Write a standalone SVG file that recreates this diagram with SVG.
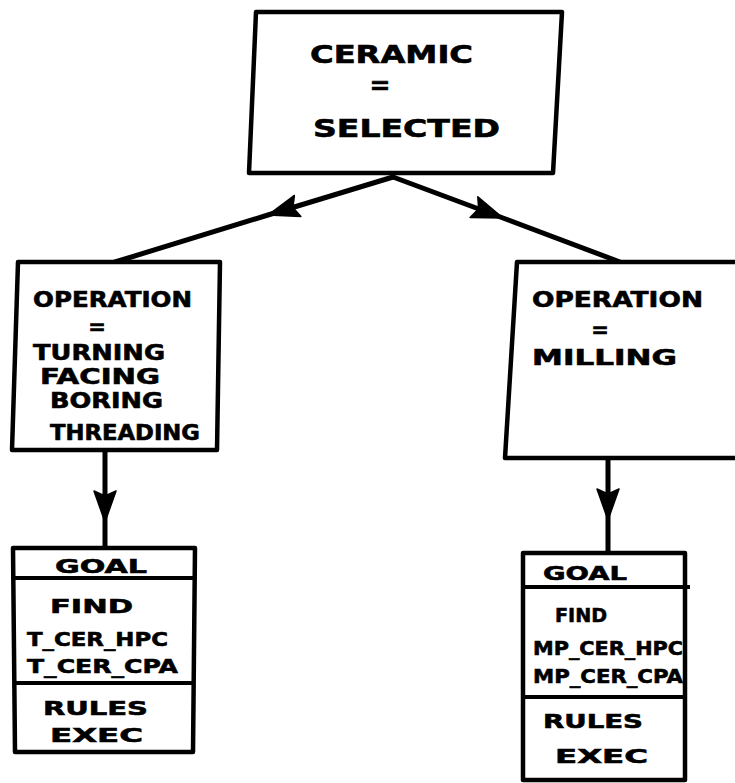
<svg xmlns="http://www.w3.org/2000/svg" width="735" height="783" viewBox="0 0 735 783">
  <style>
    .box { fill: #fff; stroke: #000; stroke-width: 4.5; stroke-linejoin: round; }
    .rule { stroke: #000; stroke-width: 4; fill: none; }
    .edge { stroke: #000; stroke-width: 5; fill: none; stroke-linecap: round; }
    .t { font-family: "DejaVu Sans", "Liberation Sans", sans-serif; font-weight: bold; fill: #000; stroke: #000; stroke-width: 0.6; }
    .big { font-size: 25px; }
    .mid { font-size: 21px; }
    .sm { font-size: 20px; }
  </style>
  <defs>
    <marker id="head" viewBox="-32 -12 33 24" refX="0" refY="0" markerWidth="33" markerHeight="24" markerUnits="userSpaceOnUse" orient="auto">
      <path d="M0,0 L-31,-11 L-26,0 L-31,11 Z" fill="#000" stroke="#000" stroke-width="1.5" stroke-linejoin="round"/>
    </marker>
  </defs>

  <rect width="735" height="783" fill="#fff"/>

  <!-- connectors -->
  <g id="connectors">
    <path class="edge" d="M393,177 L268,215 L115,262" marker-mid="url(#head)"/>
    <path class="edge" d="M393,177 L503,218 L620,262" marker-mid="url(#head)"/>
    <path class="edge" d="M105,449 L105,522 L105,548" marker-mid="url(#head)"/>
    <path class="edge" d="M608,458 L608,520 L608,553" marker-mid="url(#head)"/>
  </g>

  <!-- root condition -->
  <g id="ceramic">
    <polygon class="box" points="256,12 562,12 553,173 249,173"/>
    <text class="t big" x="310" y="63" textLength="163" lengthAdjust="spacingAndGlyphs">CERAMIC</text>
    <text class="t big" x="380" y="94" text-anchor="middle">=</text>
    <text class="t big" x="313" y="137" textLength="187" lengthAdjust="spacingAndGlyphs">SELECTED</text>
  </g>

  <!-- turning branch -->
  <g id="op-turning">
    <polygon class="box" points="18,262 220,262 217,450 12,450"/>
    <text class="t mid" x="33" y="307" textLength="159" lengthAdjust="spacingAndGlyphs">OPERATION</text>
    <text class="t mid" x="97" y="334" text-anchor="middle">=</text>
    <text class="t mid" x="33" y="360" textLength="132" lengthAdjust="spacingAndGlyphs">TURNING</text>
    <text class="t mid" x="40" y="384" textLength="120" lengthAdjust="spacingAndGlyphs">FACING</text>
    <text class="t mid" x="50" y="408" textLength="113" lengthAdjust="spacingAndGlyphs">BORING</text>
    <text class="t mid" x="50" y="440" textLength="150" lengthAdjust="spacingAndGlyphs">THREADING</text>
  </g>

  <!-- milling branch -->
  <g id="op-milling">
    <polygon class="box" points="517,262 745,262 745,458 505,458"/>
    <text class="t mid" x="532" y="307" textLength="171" lengthAdjust="spacingAndGlyphs">OPERATION</text>
    <text class="t mid" x="600" y="337" text-anchor="middle">=</text>
    <text class="t mid" x="532" y="365" textLength="145" lengthAdjust="spacingAndGlyphs">MILLING</text>
  </g>

  <!-- turning goal frame -->
  <g id="goal-turning">
    <polygon class="box" points="13,548 195,548 193,752 15,752"/>
    <line class="rule" x1="13" y1="578" x2="195" y2="578"/>
    <line class="rule" x1="14" y1="683" x2="194" y2="683"/>
    <text class="t sm" x="55" y="573" textLength="92" lengthAdjust="spacingAndGlyphs">GOAL</text>
    <text class="t sm" x="50" y="613" textLength="83" lengthAdjust="spacingAndGlyphs">FIND</text>
    <text class="t sm" x="27" y="646" textLength="141" lengthAdjust="spacingAndGlyphs">T_CER_HPC</text>
    <text class="t sm" x="27" y="673" textLength="151" lengthAdjust="spacingAndGlyphs">T_CER_CPA</text>
    <text class="t sm" x="43" y="715" textLength="105" lengthAdjust="spacingAndGlyphs">RULES</text>
    <text class="t sm" x="50" y="742" textLength="93" lengthAdjust="spacingAndGlyphs">EXEC</text>
  </g>

  <!-- milling goal frame -->
  <g id="goal-milling">
    <polygon class="box" points="523,553 685,553 685,780 523,780"/>
    <line class="rule" x1="523" y1="587" x2="690" y2="587"/>
    <line class="rule" x1="523" y1="697" x2="685" y2="697"/>
    <text class="t sm" x="543" y="580" textLength="84" lengthAdjust="spacingAndGlyphs">GOAL</text>
    <text class="t sm" x="555" y="622" textLength="52" lengthAdjust="spacingAndGlyphs">FIND</text>
    <text class="t sm" x="533" y="655" textLength="150" lengthAdjust="spacingAndGlyphs">MP_CER_HPC</text>
    <text class="t sm" x="533" y="683" textLength="150" lengthAdjust="spacingAndGlyphs">MP_CER_CPA</text>
    <text class="t sm" x="543" y="728" textLength="100" lengthAdjust="spacingAndGlyphs">RULES</text>
    <text class="t sm" x="555" y="763" textLength="93" lengthAdjust="spacingAndGlyphs">EXEC</text>
  </g>
</svg>
